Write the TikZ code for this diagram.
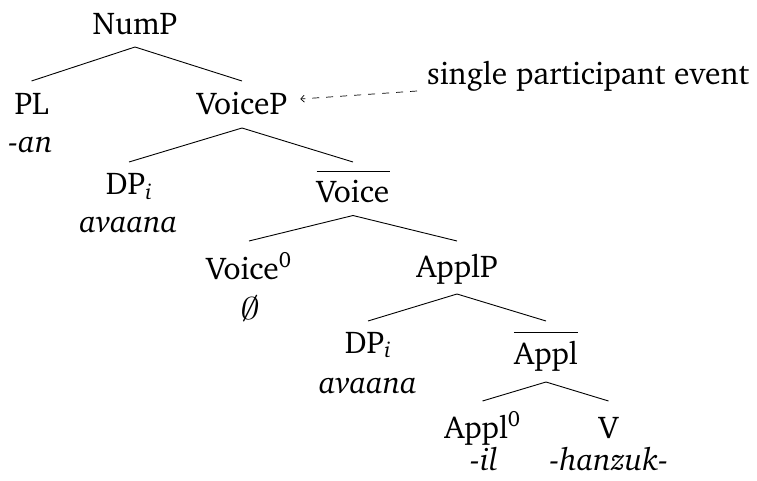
\RequirePackage{fix-cm}
\documentclass[tikz,border=0pt]{standalone}
\usepackage[T1]{fontenc}
\usepackage{charter}
\usetikzlibrary{arrows.meta}

\begin{document}
\begin{tikzpicture}[x=1pt,y=-1pt,
  lbl/.style={anchor=base,inner sep=0pt,font=\fontsize{31.5}{38}\selectfont},
  edge/.style={line width=0.9pt},
  barline/.style={line width=1.1pt},
  pointer/.style={line width=0.7pt,dash pattern=on 7pt off 7pt,
    -{Straight Barb[length=3.5pt,width=7pt]}}]
\useasboundingbox (0,0) rectangle (757,481);

% labels of the tree
\node[lbl] (nump) at (135,35) {NumP};
\node[lbl] (pl) at (31.5,115) {PL};
\node[lbl] (an) at (30.5,153) {\textit{-an}};
\node[lbl] (voicep) at (242,115) {VoiceP};
\node[lbl] (dp1) at (129,195) {DP\textsubscript{\textit{i}}};
\node[lbl] (ava1) at (128.5,232) {\textit{avaana}};
\node[lbl] (voicebar) at (353,203) {Voice};
\node[lbl] (voice0) at (249,279) {Voice\textsuperscript{0}};
\node[lbl,xslant=0.15,xscale=1.2,transform shape] (nul) at (249,319) {$\emptyset$};
\node[lbl] (applp) at (457,277) {ApplP};
\node[lbl] (dp2) at (368,353) {DP\textsubscript{\textit{i}}};
\node[lbl] (ava2) at (368,393) {\textit{avaana}};
\node[lbl] (applbar) at (546,364) {Appl};
\node[lbl] (appl0) at (482.5,438) {Appl\textsuperscript{0}};
\node[lbl] (il) at (484,470) {\textit{-il}};
\node[lbl] (v) at (608.5,438) {V};
\node[lbl] (hanzuk) at (609,470) {\textit{-hanzuk-}};
\node[lbl,anchor=base west] (note) at (427,85) {single participant event};

% bars over the intermediate projections
\draw[barline] ([yshift=9pt]voicebar.north west) -- ([yshift=9pt]voicebar.north east);
\draw[barline] ([yshift=8pt]applbar.north west) -- ([yshift=8pt]applbar.north east);

% branches
\draw[edge] ([yshift=-12pt]nump.base) -- ([yshift=34pt]pl.base);
\draw[edge] ([yshift=-12pt]nump.base) -- ([yshift=34pt]voicep.base);
\draw[edge] ([yshift=-13pt]voicep.base) -- ([yshift=33pt]dp1.base);
\draw[edge] ([yshift=-13pt]voicep.base) -- ([yshift=41pt]voicebar.base);
\draw[edge] ([yshift=-12.5pt]voicebar.base) -- ([yshift=38pt]voice0.base);
\draw[edge] ([yshift=-12.5pt]voicebar.base) -- ([yshift=36pt]applp.base);
\draw[edge] ([yshift=-17pt]applp.base) -- ([yshift=32pt]dp2.base);
\draw[edge] ([yshift=-17pt]applp.base) -- ([yshift=43pt]applbar.base);
\draw[edge] ([yshift=-18pt]applbar.base) -- ([yshift=37pt]appl0.base);
\draw[edge] ([yshift=-18pt]applbar.base) -- ([yshift=37pt]v.base);

% annotation pointer
\draw[pointer] ([xshift=-10pt,yshift=-6pt]note.base west) -- ([xshift=13pt,yshift=16pt]voicep.base east);
\end{tikzpicture}
\end{document}
